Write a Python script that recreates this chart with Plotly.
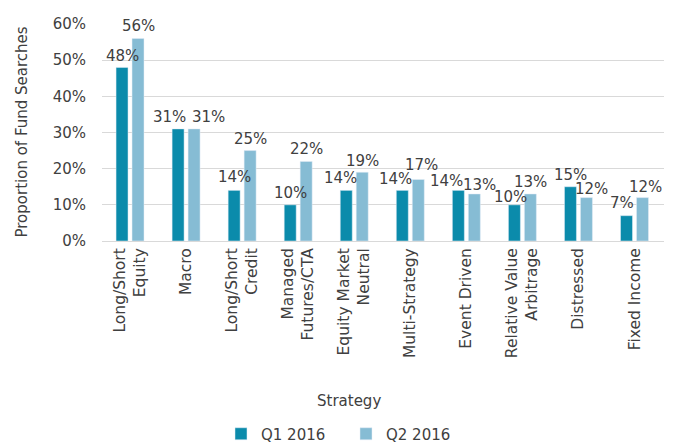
import plotly.graph_objects as go

strategies = ["Long/Short<br>Equity", "Macro", "Long/Short<br>Credit", "Managed<br>Futures/CTA",
              "Equity Market<br>Neutral", "Multi-Strategy", "Event Driven",
              "Relative Value<br>Arbitrage", "Distressed", "Fixed Income"]
q1_2016 = [0.48, 0.31, 0.14, 0.10, 0.14, 0.14, 0.14, 0.10, 0.15, 0.07]
q2_2016 = [0.56, 0.31, 0.25, 0.22, 0.19, 0.17, 0.13, 0.13, 0.12, 0.12]

# label nudges (px) so that overlapping labels sit like in the original
q1_dx = [0, -9, 0, 0, -6, -7, -12, -4, 0, -5]
q2_dx = [0, 14, 0, 0, 0, 3, 5, 0, 5, 3]
q1_gap = [6, 7, 8, 7, 7, 6, 4, 3, 7, 8]
q2_gap = [7, 7, 7, 7, 6, 10, 4, 7, 4, 6]

FONT = "DejaVu Sans"
TXT = "#404040"
DARK = "#0B8BAB"
LIGHT = "#86BCD4"

# page body has an 8px margin, so the figure starts at (8, 8) in the window
W, H = 668, 437

fig = go.Figure()
fig.add_trace(go.Bar(x=strategies, y=q1_2016, name="Q1 2016", marker_color=DARK))
fig.add_trace(go.Bar(x=strategies, y=q2_2016, name="Q2 2016", marker_color=LIGHT))

annotations = []
for vals, side, dxs, gaps in [(q1_2016, -8, q1_dx, q1_gap), (q2_2016, 8, q2_dx, q2_gap)]:
    for cat, v, dx, g in zip(strategies, vals, dxs, gaps):
        annotations.append(dict(x=cat, y=v, text=f"{v:.0%}", showarrow=False,
                                xanchor="center", yanchor="bottom",
                                xshift=side + dx, yshift=g - 6,
                                font=dict(size=15, color=TXT)))

annotations += [
    dict(text="Strategy", x=(349 - 102) / 562, y=-(401 - 241) / 217,
         xref="paper", yref="paper", xanchor="center", yanchor="middle",
         showarrow=False, font=dict(size=15, color=TXT)),
    dict(text="Proportion of Fund Searches", x=-(102 - 21) / 562, y=0.5,
         xref="paper", yref="paper", xanchor="center", yanchor="middle",
         textangle=-90, showarrow=False, font=dict(size=15, color=TXT)),
]

fig.update_layout(
    width=W, height=H,
    margin=dict(l=94, r=12, t=16, b=204),
    paper_bgcolor="white", plot_bgcolor="white",
    font=dict(family=FONT, size=15, color=TXT),
    barmode="group", bargap=0.43, bargroupgap=0.25,
    showlegend=True,
    legend=dict(orientation="h", xref="container", yref="container",
                x=(346 - 8) / W, y=1 - (434 - 8) / H, xanchor="center", yanchor="middle",
                font=dict(size=15, color=TXT), itemwidth=30, entrywidth=80,
                traceorder="normal"),
    xaxis=dict(tickangle=-90, showline=True, linecolor="#d9d9d9", linewidth=1,
               tickfont=dict(size=15.5, color=TXT), automargin=False),
    yaxis=dict(range=[0, 0.6], dtick=0.1, tickformat=".0%", showgrid=True,
               gridcolor="#d9d9d9", zeroline=False, ticklabelstandoff=15,
               tickfont=dict(size=15, color=TXT), automargin=False),
    annotations=annotations,
)

fig.write_html("out.html")
